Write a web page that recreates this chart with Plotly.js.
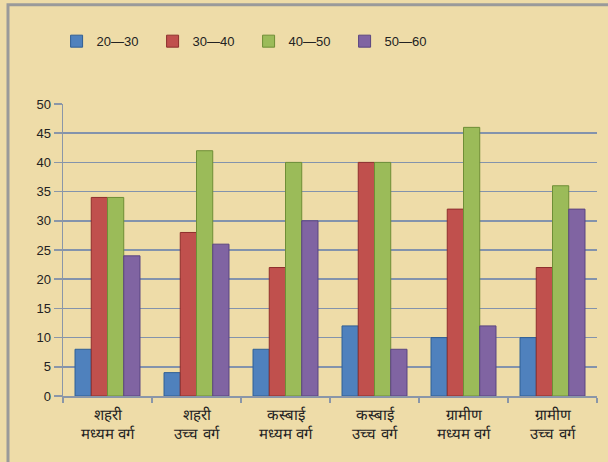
<!DOCTYPE html>
<html>
<head>
<meta charset="utf-8">
<script src="https://cdn.plot.ly/plotly-3.0.1.min.js"></script>
<style>
html,body{margin:0;padding:0;background:#EEDCA8;}
#chart{width:608px;height:462px;}
</style>
</head>
<body>
<div id="chart"></div>
<script>
const categories = ["शहरी<br>मध्यम वर्ग", "शहरी<br>उच्च वर्ग", "कस्बाई<br>मध्यम वर्ग", "कस्बाई<br>उच्च वर्ग", "ग्रामीण<br>मध्यम वर्ग", "ग्रामीण<br>उच्च वर्ग"];
const seriesNames = ["20—30", "30—40", "40—50", "50—60"];
const s2030 = [8, 4, 8, 12, 10, 10];
const s3040 = [34, 28, 22, 40, 32, 22];
const s4050 = [34, 42, 40, 40, 46, 36];
const s5060 = [24, 26, 30, 8, 12, 32];
const yTicks = [0, 5, 10, 15, 20, 25, 30, 35, 40, 45, 50];

const colors = ["#4F81BD", "#C0504D", "#9BBB59", "#8064A2"];
const lineColors = ["#2F5F95", "#8E2F2D", "#6E8E36", "#5A4580"];
const allSeries = [s2030, s3040, s4050, s5060];

const traces = allSeries.map((vals, i) => ({
  type: "bar",
  name: seriesNames[i],
  x: categories,
  y: vals,
  marker: {color: colors[i], line: {color: lineColors[i], width: 1}},
  hoverinfo: "none"
}));

const layout = {
  width: 608, height: 462,
  paper_bgcolor: "#EEDCA8",
  plot_bgcolor: "rgba(0,0,0,0)",
  margin: {l: 63, r: 11, t: 104, b: 66},
  barmode: "group",
  bargap: 0.27,
  bargroupgap: 0,
  font: {family: "Liberation Sans, Arial, sans-serif", size: 13, color: "#222"},
  showlegend: true,
  legend: {
    orientation: "h", x: -0.012, y: 1.215, xanchor: "left", yanchor: "middle",
    font: {size: 13, color: "#222"}, itemwidth: 30, tracegroupgap: 0,
    entrywidth: 51, entrywidthmode: "pixels",
    bgcolor: "rgba(0,0,0,0)"
  },
  xaxis: {
    showgrid: false, showline: true, linecolor: "#8A96A8", linewidth: 1.5,
    ticks: "outside", tickson: "boundaries", ticklen: 5, tickcolor: "#8A96A8", tickwidth: 1.5,
    ticklabelstandoff: 4,
    tickfont: {size: 15, color: "#222"}, zeroline: false
  },
  yaxis: {
    range: [0, 50], tickvals: yTicks, showgrid: true, gridcolor: "#8393AC", gridwidth: 1.5,
    showline: true, linecolor: "#8A96A8", linewidth: 1.5,
    ticks: "outside", ticklen: 8, tickcolor: "#8A96A8", tickwidth: 1.5,
    tickfont: {size: 13, color: "#222"}, zeroline: false
  },
  shapes: [
    {type: "rect", xref: "paper", yref: "paper", x0: -0.103, x1: 1.1, y0: -0.4, y1: 1.34,
     line: {color: "#9A9A9A", width: 3}, fillcolor: "rgba(0,0,0,0)", layer: "below"}
  ]
};

Plotly.newPlot("chart", traces, layout, {displayModeBar: false, staticPlot: true});
</script>
</body>
</html>
